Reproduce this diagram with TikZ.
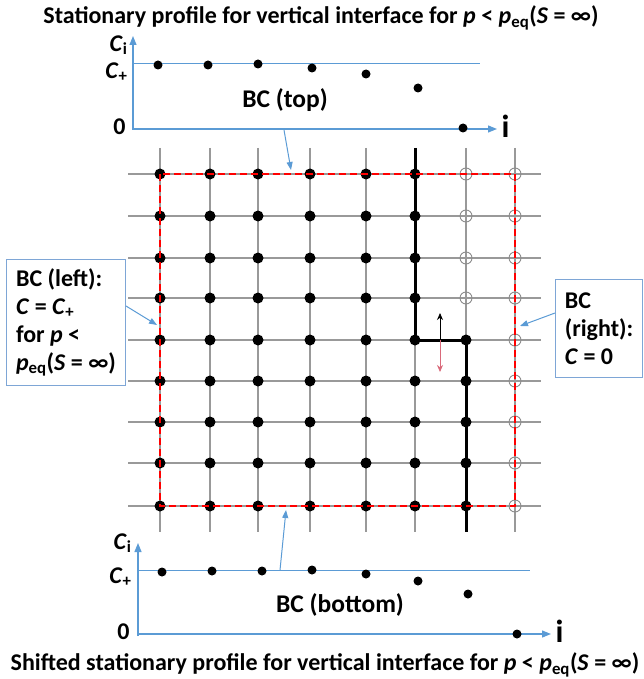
\documentclass[tikz,border=0pt]{standalone}
\usepackage{fontspec}
\setmainfont{Carlito}
\usetikzlibrary{arrows.meta}
\definecolor{callblue}{HTML}{5B9BD5}
\definecolor{boxblue}{HTML}{7EA6D6}
\definecolor{flipred}{HTML}{D9697A}

\begin{document}
\begin{tikzpicture}[x=1pt, y=-1pt, font=\fontsize{24}{28}\selectfont\bfseries]
  \tikzset{
    gridline/.style={draw=gray!80, line width=1.2pt},
    site/.style={fill=black},
    emptysite/.style={draw=gray!90, line width=0.9pt},
    bcframe/.style={draw=red, dash pattern=on 7pt off 4pt, line width=1.5pt},
    interface/.style={draw=black, line width=3pt},
    plotaxis/.style={draw=callblue, line width=1.2pt, -{Triangle[length=9pt,width=7pt]}},
    pluslevel/.style={draw=callblue, line width=1pt},
    pointer/.style={draw=callblue, line width=1pt, -{Triangle[length=8pt,width=6pt]}},
    note/.style={draw=boxblue, line width=1pt, align=left, anchor=north west, inner sep=0pt},
    profile/.style={fill=black},
    axislabel/.style={anchor=east, font=\fontsize{24}{28}\selectfont\bfseries},
    bclabel/.style={font=\fontsize{25.5}{30}\selectfont\bfseries},
    bigi/.style={font=\fontsize{32}{36}\selectfont\bfseries}
  }
  \useasboundingbox (0,0) rectangle (643,679);

  \node (ttop) at (321,18) {Stationary profile for vertical interface for \textit{p} < \textit{p}\textsubscript{eq}(\textit{S} = ∞)};
  \node (tbot) at (325,665) {Shifted stationary profile for vertical interface for \textit{p} < \textit{p}\textsubscript{eq}(\textit{S} = ∞)};

  \begin{scope}
    \draw[plotaxis] (133,130) -- (133,36);
    \draw[plotaxis] (133,129) -- (497,129);
    \draw[pluslevel] (133,64) -- (480,64);
    \node[axislabel] (citop) at (131,45) {\textit{C}\textsubscript{i}};
    \node[axislabel] (cptop) at (131,72) {\textit{C}\textsubscript{+}};
    \node[axislabel] (zerotop) at (129,127) {0};
    \node[bigi, anchor=west] (itop) at (498,126) {i};
    \node[bclabel] (bctop) at (285,100) {BC (top)};
    \foreach \x/\y in {158/65, 208/65, 258/64, 312/68, 366/74, 418/88, 463/128}
      \fill[profile] (\x,\y) circle (4.5);
  \end{scope}

  \begin{scope}
    \draw[plotaxis] (138,636) -- (138,543);
    \draw[plotaxis] (138,634) -- (551,634);
    \draw[pluslevel] (138,570) -- (530,570);
    \node[axislabel] (cibot) at (135,543) {\textit{C}\textsubscript{i}};
    \node[axislabel] (cpbot) at (135,577) {\textit{C}\textsubscript{+}};
    \node[axislabel] (zerobot) at (133,632) {0};
    \node[bigi, anchor=west] (ibot) at (552,631) {i};
    \node[bclabel] (bcbot) at (340,605) {BC (bottom)};
    \foreach \x/\y in {162/572, 212/571, 262/571, 312/570, 366/574, 418/581, 468/594, 517/634}
      \fill[profile] (\x,\y) circle (4.5);
  \end{scope}

  \foreach \x in {160,210,258,310,366,415,466,515}
    \draw[gridline] (\x,148) -- (\x,532);
  \foreach \y in {174,216,258,298,340,381,422,463,506}
    \draw[gridline] (128,\y) -- (541,\y);

  \foreach \x in {160,210,258,310,366,415}
    \foreach \y in {174,216,258,298,340,381,422,463,506}
      \fill[site] (\x,\y) circle (5.5);
  \foreach \y in {340,381,422,463,506}
    \fill[site] (466,\y) circle (5.5);
  \foreach \y in {174,216,258,298}
    \draw[emptysite] (466,\y) circle (6);
  \foreach \y in {174,216,258,298,340,381,422,463,506}
    \draw[emptysite] (515,\y) circle (6);

  \draw[interface] (415,148) -- (415,340) -- (466,340) -- (466,532);
  \draw[bcframe] (160,174) rectangle (515,506);

  \draw[line width=0.8pt, -{Stealth[length=7pt,width=6pt]}] (440,340) -- (440,313);
  \draw[flipred, line width=0.8pt, -{Stealth[length=7pt,width=6pt]}] (440,340) -- (440,372);

  \node[note, minimum width=119pt, minimum height=126pt] (leftbc) at (6,259)
    {BC (left):\\\textit{C} = \textit{C}\textsubscript{+}\\for \textit{p} <\\\textit{p}\textsubscript{eq}(\textit{S} = ∞)};
  \node[note, minimum width=87pt, minimum height=98pt] (rightbc) at (555,279)
    {BC\\(right):\\\textit{C} = 0};

  \coordinate (topfoot) at (284,130);
  \coordinate (toptip) at (291,170);
  \coordinate (botfoot) at (280,570);
  \coordinate (bottip) at (286,510);
  \coordinate (lefttip) at (157,325);
  \coordinate (righttip) at (520,326);
  \draw[pointer] (topfoot) -- (toptip);
  \draw[pointer] (botfoot) -- (bottip);
  \draw[pointer] (leftbc.east |- 0,306) -- (lefttip);
  \draw[pointer] (rightbc.west |- 0,313) -- (righttip);
\end{tikzpicture}
\end{document}
